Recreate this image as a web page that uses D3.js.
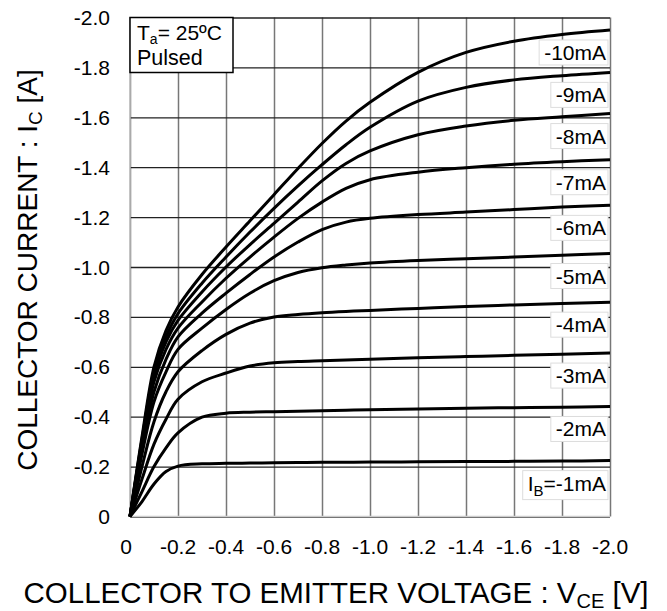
<!DOCTYPE html>
<html>
<head>
<meta charset="utf-8">
<script src="https://cdn.jsdelivr.net/npm/d3@7"></script>
<style>
  body { margin: 0; background: #fff; }
  svg { display: block; font-family: "Liberation Sans", Arial, sans-serif; }
</style>
</head>
<body>
<svg id="chart" width="667" height="611"></svg>
<script>
// Collector-emitter voltage samples [V], shared by every curve.
const vce = [0, -0.05, -0.1, -0.15, -0.2, -0.3, -0.4, -0.5, -0.6, -0.7, -0.8, -0.9, -1.0, -1.2, -1.4, -1.6, -1.8, -2.0];

// Base currents [mA] and the collector current [A] read for each one.
const baseCurrents = [-1, -2, -3, -4, -5, -6, -7, -8, -9, -10];
const ic1  = [0, -0.06, -0.13, -0.18, -0.202, -0.211, -0.213, -0.214, -0.215, -0.216, -0.217, -0.217, -0.218, -0.219, -0.22, -0.221, -0.222, -0.224];
const ic2  = [0, -0.1, -0.2, -0.275, -0.335, -0.398, -0.414, -0.418, -0.42, -0.422, -0.424, -0.426, -0.428, -0.431, -0.434, -0.436, -0.438, -0.441];
const ic3  = [0, -0.15, -0.29, -0.39, -0.47, -0.54, -0.575, -0.603, -0.616, -0.621, -0.624, -0.627, -0.63, -0.636, -0.641, -0.646, -0.65, -0.655];
const ic4  = [0, -0.2, -0.38, -0.5, -0.58, -0.665, -0.73, -0.775, -0.8, -0.81, -0.817, -0.822, -0.826, -0.834, -0.842, -0.848, -0.854, -0.859];
const ic5  = [0, -0.25, -0.46, -0.58, -0.67, -0.755, -0.83, -0.895, -0.945, -0.978, -0.997, -1.008, -1.016, -1.026, -1.033, -1.04, -1.047, -1.054];
const ic6  = [0, -0.27, -0.5, -0.63, -0.72, -0.815, -0.895, -0.97, -1.04, -1.1, -1.15, -1.18, -1.195, -1.21, -1.22, -1.23, -1.24, -1.247];
const ic7  = [0, -0.29, -0.54, -0.67, -0.755, -0.86, -0.955, -1.04, -1.12, -1.195, -1.26, -1.315, -1.35, -1.38, -1.398, -1.412, -1.422, -1.43];
const ic8  = [0, -0.3, -0.56, -0.7, -0.786, -0.9, -1.0, -1.09, -1.175, -1.26, -1.345, -1.415, -1.465, -1.53, -1.565, -1.588, -1.602, -1.615];
const ic9  = [0, -0.31, -0.58, -0.72, -0.813, -0.935, -1.04, -1.14, -1.235, -1.325, -1.41, -1.49, -1.56, -1.665, -1.72, -1.75, -1.767, -1.78];
const ic10 = [0, -0.32, -0.6, -0.745, -0.84, -0.97, -1.08, -1.185, -1.29, -1.395, -1.495, -1.585, -1.66, -1.78, -1.86, -1.905, -1.932, -1.95];
const curves = [ic1, ic2, ic3, ic4, ic5, ic6, ic7, ic8, ic9, ic10];

const xTicks = [0, -0.2, -0.4, -0.6, -0.8, -1.0, -1.2, -1.4, -1.6, -1.8, -2.0];
const yTicks = [0, -0.2, -0.4, -0.6, -0.8, -1.0, -1.2, -1.4, -1.6, -1.8, -2.0];

const svg = d3.select("#chart");
const plotLeft = 130, plotRight = 610, plotTop = 17.5, plotBottom = 516.5;

const x = d3.scaleLinear().domain([0, -2.0]).range([plotLeft, plotRight]);
const y = d3.scaleLinear().domain([0, -2.0]).range([plotBottom, plotTop]);
const fmt = d => d === 0 ? "0" : d.toFixed(1);

// Grid: vertical lines grey, horizontal lines darker.
svg.append("g")
  .attr("transform", "translate(0," + plotBottom + ")")
  .call(d3.axisBottom(x).tickValues(xTicks).tickSize(-(plotBottom - plotTop)).tickFormat(""))
  .call(g => g.select(".domain").remove())
  .call(g => g.selectAll("line").attr("stroke", "#777").attr("stroke-width", 1.5));

svg.append("g")
  .attr("transform", "translate(" + plotLeft + ",0)")
  .call(d3.axisLeft(y).tickValues(yTicks).tickSize(-(plotRight - plotLeft)).tickFormat(""))
  .call(g => g.select(".domain").remove())
  .call(g => g.selectAll("line").attr("stroke", "#222").attr("stroke-width", 1.3));

// light bottom / left frame
svg.append("line").attr("x1", plotLeft).attr("x2", plotRight).attr("y1", plotBottom).attr("y2", plotBottom)
  .attr("stroke", "#ccc").attr("stroke-width", 1.5);
svg.append("line").attr("x1", plotLeft).attr("x2", plotLeft).attr("y1", plotTop).attr("y2", plotBottom)
  .attr("stroke", "#bbb").attr("stroke-width", 1.5);

// Tick labels
svg.append("g").selectAll("text")
  .data(xTicks).join("text")
  .attr("x", d => d === 0 ? x(d) - 4 : x(d))
  .attr("y", 554)
  .attr("text-anchor", "middle")
  .attr("font-size", 21)
  .text(fmt);

svg.append("g").selectAll("text")
  .data(yTicks).join("text")
  .attr("x", 110)
  .attr("y", d => y(d) + 7.5)
  .attr("text-anchor", "end")
  .attr("font-size", 21)
  .text(fmt);

// Curves
const line = d3.line()
  .x((d, i) => x(vce[i]))
  .y(d => y(d))
  .curve(d3.curveCatmullRom.alpha(0.5));

svg.append("g").selectAll("path")
  .data(curves).join("path")
  .attr("d", line)
  .attr("fill", "none")
  .attr("stroke", "#000")
  .attr("stroke-width", 3);

// Curve labels in white boxes
const labels = svg.append("g");
curves.forEach((c, k) => {
  const g = labels.append("g");
  const box = g.append("rect");
  const t = g.append("text")
    .attr("x", 606)
    .attr("y", y(c[c.length - 1]) + 30)
    .attr("text-anchor", "end")
    .attr("font-size", 21);
  if (k === 0) {
    t.append("tspan").text("I");
    t.append("tspan").attr("font-size", 15).attr("dy", 5).text("B");
    t.append("tspan").attr("dy", -5).text("=" + baseCurrents[k] + "mA");
  } else {
    t.text(baseCurrents[k] + "mA");
  }
  const b = t.node().getBBox();
  box.attr("x", b.x - 5).attr("y", b.y - 1)
    .attr("width", b.width + 7).attr("height", b.height + 2)
    .attr("fill", "#fff").attr("stroke", "#ddd").attr("stroke-width", 1);
});

// Condition box
svg.append("rect")
  .attr("x", plotLeft).attr("y", plotTop)
  .attr("width", 103).attr("height", 55)
  .attr("fill", "#fff").attr("stroke", "#000").attr("stroke-width", 1.5);
const cond = svg.append("text").attr("x", 137).attr("y", 40).attr("font-size", 21);
cond.append("tspan").text("T");
cond.append("tspan").attr("font-size", 14).attr("dy", 4).text("a");
cond.append("tspan").attr("dy", -4).text("= 25ºC");
svg.append("text").attr("x", 137).attr("y", 65).attr("font-size", 21.5).text("Pulsed");

// Axis titles
const xt = svg.append("text")
  .attr("x", 336).attr("y", 603)
  .attr("text-anchor", "middle")
  .attr("font-size", 29.5);
xt.append("tspan").text("COLLECTOR TO EMITTER VOLTAGE : V");
xt.append("tspan").attr("font-size", 20).attr("dy", 5).text("CE");
xt.append("tspan").attr("dy", -5).text(" [V]");

const yt = svg.append("text")
  .attr("transform", "translate(37," + 270 + ") rotate(-90)")
  .attr("text-anchor", "middle")
  .attr("font-size", 28);
yt.append("tspan").text("COLLECTOR CURRENT : I");
yt.append("tspan").attr("font-size", 19).attr("dy", 5).text("C");
yt.append("tspan").attr("dy", -5).text(" [A]");
</script>
</body>
</html>
